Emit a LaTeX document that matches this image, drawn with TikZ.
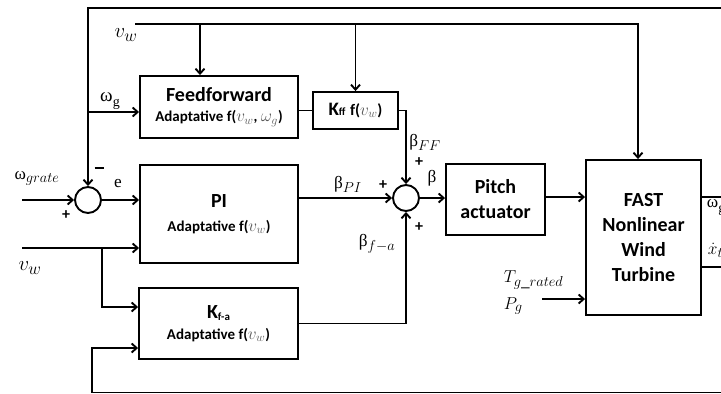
\documentclass[tikz,border=0pt]{standalone}
\usepackage{fontspec}
\setmainfont{Carlito}
\newfontfamily\grk{Liberation Serif}
\usetikzlibrary{arrows.meta}
\DeclareMathSizes{17.28}{17.28}{14.4}{10}
\DeclareMathSizes{20.74}{20.74}{17.28}{12}
\DeclareMathSizes{15}{17.28}{12}{8}
\DeclareMathSizes{16}{17.28}{12}{8}
\definecolor{mg}{gray}{0.35}
\newcommand\gsub[1]{\raisebox{-5pt}{\fontsize{14}{14}\selectfont #1}}
\newcommand\bigbf{\bfseries\fontsize{20}{25}\selectfont}
\newcommand\smbf{\bfseries\fontsize{15}{17}\selectfont}
\begin{document}
\begin{tikzpicture}[x=1pt,y=-1pt, line width=1.9pt,
  >={Straight Barb[length=5pt,width=9pt]},
  blk/.style={draw, line width=1.9pt, inner sep=0pt, align=center, font=\bigbf},
  sumc/.style={draw, circle, minimum size=26pt, inner sep=0pt, line width=1.9pt},
  lbl/.style={inner sep=0pt, font=\fontsize{17.28}{20}\selectfont},
  vlbl/.style={inner sep=0pt, font=\fontsize{20.74}{23}\selectfont},
  sgn/.style={inner sep=0pt, font=\bfseries\fontsize{16}{18}\selectfont}]
\useasboundingbox (0,0) rectangle (721,394);
\clip (0,0) rectangle (721,394);

% blocks
\node[blk, minimum width=158pt, minimum height=62pt] (FF) at (219,107)
  {Feedforward\\[-5pt]{\smbf Adaptative f(\textcolor{mg}{$v_w$}, \textcolor{mg}{$\omega_g$})}};
\node[blk, minimum width=85pt, minimum height=37pt] (Kff) at (355.5,110.5)
  {{\bfseries\fontsize{19}{20}\selectfont K}{\bfseries\fontsize{11}{12}\selectfont ff} {\bfseries\fontsize{16}{18}\selectfont f(\textcolor{mg}{$v_w$})}};
\node[blk, minimum width=158pt, minimum height=98pt] (PI) at (219,214)
  {PI\\[-1pt]{\smbf Adaptative f(\textcolor{mg}{$v_w$})}};
\node[blk, minimum width=159pt, minimum height=71pt] (Kfa) at (218.5,323.5)
  {{\fontsize{20}{22}\selectfont K}\raisebox{-2pt}{\fontsize{11}{12}\selectfont f-a}\\[-4pt]{\smbf Adaptative f(\textcolor{mg}{$v_w$})}};
\node[blk, minimum width=99pt, minimum height=71pt] (Pitch) at (495.5,199.5)
  {Pitch\\actuator};
\node[blk, minimum width=115pt, minimum height=155pt] (FAST) at (643.5,237.5)
  {FAST\\Nonlinear\\Wind\\Turbine};
\node[sumc] (s1) at (88,200) {};
\node[sumc] (s2) at (406,198) {};

% free ends
\coordinate (topR) at (721,8);
\coordinate (topL) at (88,8);
\coordinate (ffin) at (88,112);
\coordinate (vwL) at (135,24);
\coordinate (vwR) at (638,24);
\coordinate (vwb1) at (200,24);
\coordinate (wr) at (22,200);
\coordinate (vw2) at (22,248);
\coordinate (vwb) at (102,248);
\coordinate (kfain1) at (102,307);
\coordinate (tg) at (542,299);
\coordinate (botR) at (721,392.5);
\coordinate (botL) at (92,392.5);
\coordinate (kfain2) at (92,348);
\coordinate (o1) at (721,197);
\coordinate (o2) at (721,267);

% connectors
\draw[->] (topR) -- (topL) -- (s1.north);
\draw[->] (ffin) -- (ffin -| FF.west);
\draw[->] (vwL) -- (vwR) -- (vwR |- FAST.north);
\draw[->] (vwb1) -- (vwb1 |- FF.north);
\draw[->] (Kff.north |- vwL) -- (Kff.north);
\draw (Kff.west -| FF.east) -- (Kff.west);
\draw[->] (Kff.east) -- (s2.north |- Kff.east) -- (s2.north);
\draw[->] (wr) -- (s1.west);
\draw[->] (s1.east) -- (s1.east -| PI.west);
\draw[->] (vw2) -- (vw2 -| PI.west);
\draw[->] (vwb) -- (kfain1) -- (kfain1 -| Kfa.west);
\draw[->] (s2.west -| PI.east) -- (s2.west);
\draw[->] (Kfa.east) -- (s2.south |- Kfa.east) -- (s2.south);
\draw[->] (s2.east) -- (s2.east -| Pitch.west);
\draw[->] (Pitch.east |- 0,197) -- (FAST.west |- 0,197);
\draw[->] (tg) -- (tg -| FAST.west);
\draw[->] (botR) -- (botL) -- (kfain2) -- (kfain2 -| Kfa.west);
\draw (FAST.east |- o1) -- (o1);
\draw (FAST.east |- o2) -- (o2);

% labels
\node[vlbl] (lvw1) at (126,35) {$v_w$};
\node[lbl, font=\fontsize{19}{20}\selectfont] (lwg) at (110,101) {{\grk ω\gsub{g}}};
\node[sgn] (lminus) at (99,168) {\rule{9pt}{2pt}};
\node[lbl] (lwr) at (37,178) {{\grk ω}$_{grate}$};
\node[lbl] (le) at (118,184) {{\grk e}};
\node[sgn] (lp1) at (66,215) {+};
\node[vlbl] (lvw2) at (30,268) {$v_w$};
\node[lbl] (lbpi) at (348,184) {{\grk β}$_{PI}$};
\node[sgn] (lp2) at (383,185) {+};
\node[lbl] (lbff) at (425,142) {{\grk β}$_{FF}$};
\node[sgn] (lp3) at (419,162) {+};
\node[lbl] (lb) at (432,178) {{\grk β}};
\node[sgn] (lp4) at (419,227) {+};
\node[lbl] (lbfa) at (377,244) {{\grk β}$_{f-a}$};
\node[lbl, anchor=west] (ltg) at (503,280) {$T_{g\_rated}$};
\node[lbl, anchor=west] (lpg) at (503,306) {$P_g$};
\node[lbl, anchor=west] (lwo) at (706,207) {{\grk ω\gsub{g}}};
\node[lbl, anchor=west] (lxo) at (707,250) {$\dot{x}_t$};
\end{tikzpicture}
\end{document}
